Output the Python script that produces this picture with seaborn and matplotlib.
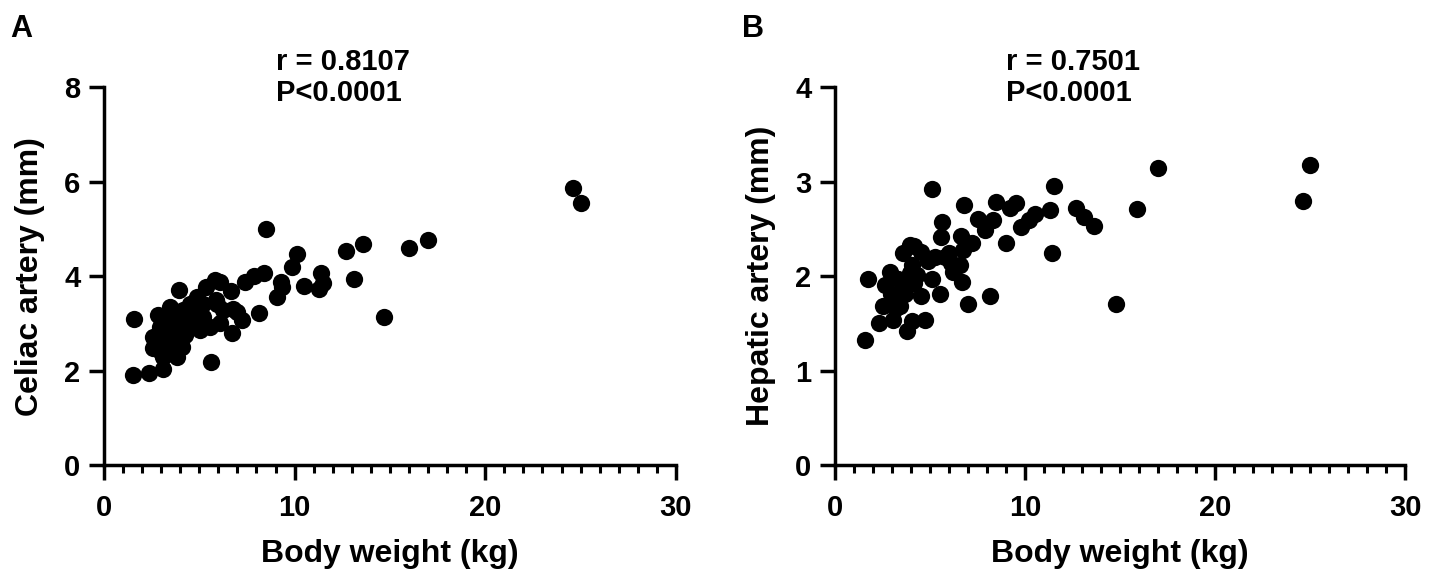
import numpy as np
import pandas as pd
import matplotlib
matplotlib.use("Agg")
import matplotlib.pyplot as plt
import seaborn as sns
from matplotlib.ticker import MultipleLocator

# --- data ---
celiac_weight = [24.6, 25.0, 8.52, 17.0, 16.0, 13.6, 12.7, 10.1, 9.86, 13.1, 11.4, 11.5,
                 11.3, 10.5, 14.7, 9.34, 9.06, 9.27, 8.4, 7.86, 7.42, 8.12, 6.64, 6.69,
                 5.59, 3.94, 1.6, 1.53, 2.35, 3.12, 5.82, 5.35, 6.06, 6.76, 7.23, 7.0,
                 5.9, 2.85, 3.46, 2.59, 2.59, 3.11, 3.81, 4.07, 4.25, 4.51, 4.86, 5.21,
                 5.91, 6.08, 5.56, 5.03, 3.72, 3.29, 3.11, 3.63, 3.46, 4.51, 4.86, 4.16,
                 2.94, 4.33, 5.21, 6.26, 3.0, 3.8]
celiac_mm = [5.87, 5.54, 4.99, 4.76, 4.60, 4.69, 4.54, 4.46, 4.20, 3.94, 4.06, 3.85,
             3.73, 3.80, 3.14, 3.77, 3.55, 3.88, 4.06, 4.0, 3.88, 3.21, 3.69, 2.79,
             2.19, 3.71, 3.10, 1.90, 1.95, 2.03, 3.92, 3.77, 3.88, 3.31, 3.07, 3.23,
             3.5, 3.17, 3.35, 2.71, 2.47, 2.29, 2.29, 2.50, 2.75, 2.96, 3.17, 3.42,
             3.42, 3.0, 2.93, 2.86, 2.93, 3.00, 2.71, 2.65, 2.50, 3.42, 3.56, 3.28,
             2.93, 3.07, 3.14, 3.28, 2.4, 3.1]

hepatic_weight = [25.0, 24.6, 17.0, 15.9, 14.8, 11.5, 11.3, 11.4, 12.7, 13.1, 13.6, 10.5,
                  10.2, 9.8, 9.5, 9.2, 8.45, 8.3, 7.9, 7.5, 8.99, 8.15, 7.23, 6.78,
                  6.6, 6.74, 6.56, 6.69, 6.98, 5.63, 5.56, 5.09, 5.51, 5.09, 6.0, 6.12,
                  6.2, 5.76, 5.27, 4.9, 4.53, 4.16, 3.92, 3.55, 4.04, 4.29, 4.16, 4.53,
                  4.73, 4.04, 3.80, 3.43, 3.06, 3.18, 2.33, 2.52, 2.65, 2.87, 3.31, 3.55,
                  3.67, 3.92, 1.71, 1.59, 2.94, 3.06]
hepatic_mm = [3.18, 2.80, 3.14, 2.71, 1.70, 2.95, 2.70, 2.25, 2.72, 2.63, 2.53, 2.66,
              2.59, 2.52, 2.77, 2.72, 2.78, 2.59, 2.49, 2.61, 2.35, 1.79, 2.35, 2.75,
              2.43, 2.28, 2.12, 1.94, 1.71, 2.57, 2.41, 2.92, 1.81, 1.97, 2.24, 2.14,
              2.04, 2.20, 2.20, 2.16, 2.26, 2.32, 2.33, 2.24, 2.12, 2.01, 1.93, 1.79,
              1.54, 1.52, 1.42, 1.68, 1.54, 1.66, 1.50, 1.68, 1.91, 2.04, 1.97, 1.89,
              1.81, 2.03, 1.97, 1.32, 1.81, 1.72]

stats_a = "r = 0.8107\nP<0.0001"
stats_b = "r = 0.7501\nP<0.0001"

sns.set_style("ticks")
plt.rcParams['font.family'] = ['Liberation Sans', 'DejaVu Sans']
plt.rcParams['font.weight'] = 'bold'
for key in ['text.color', 'axes.edgecolor', 'axes.labelcolor', 'xtick.color', 'ytick.color']:
    plt.rcParams[key] = 'black'

fig = plt.figure(figsize=(14.3, 5.75), dpi=100)
ax_a = fig.add_axes([0.0727, 0.1913, 0.40, 0.657])
ax_b = fig.add_axes([0.584, 0.1913, 0.3986, 0.657])

panels = [
    (ax_a, celiac_weight, celiac_mm, "Celiac artery (mm)", 8, 2, stats_a, "A", 0.007),
    (ax_b, hepatic_weight, hepatic_mm, "Hepatic artery (mm)", 4, 1, stats_b, "B", 0.519),
]

for ax, xs, ys, ylab, ymax, ystep, stats, letter, lx in panels:
    df = pd.DataFrame({"w": xs, "d": ys})
    sns.scatterplot(data=df, x="w", y="d", ax=ax, s=155, color="black",
                    edgecolor="black", linewidth=0, zorder=3, clip_on=False)
    ax.set_xlim(0, 30)
    ax.set_ylim(0, ymax)
    ax.xaxis.set_major_locator(MultipleLocator(10))
    ax.xaxis.set_minor_locator(MultipleLocator(1))
    ax.yaxis.set_major_locator(MultipleLocator(ystep))
    for sp in ["top", "right"]:
        ax.spines[sp].set_visible(False)
    for sp in ["left", "bottom"]:
        ax.spines[sp].set_linewidth(2.5)
    ax.tick_params(which="major", length=11, width=2.5, labelsize=21, pad=6)
    ax.tick_params(which="minor", length=6, width=2.2)
    ax.tick_params(axis="x", which="major", pad=10)
    for lab in ax.get_xticklabels() + ax.get_yticklabels():
        lab.set_fontweight("bold")
    ax.set_xlabel("Body weight (kg)", fontsize=23, fontweight="bold", labelpad=12)
    ax.set_ylabel(ylab, fontsize=23, fontweight="bold", labelpad=14)
    ax.text(0.30, 1.105, stats, transform=ax.transAxes, ha="left", va="top",
            fontsize=21, fontweight="bold", linespacing=1.15)
    fig.text(lx, 0.975, letter, ha="left", va="top", fontsize=22, fontweight="bold")

fig.savefig("out.png", dpi=100)
